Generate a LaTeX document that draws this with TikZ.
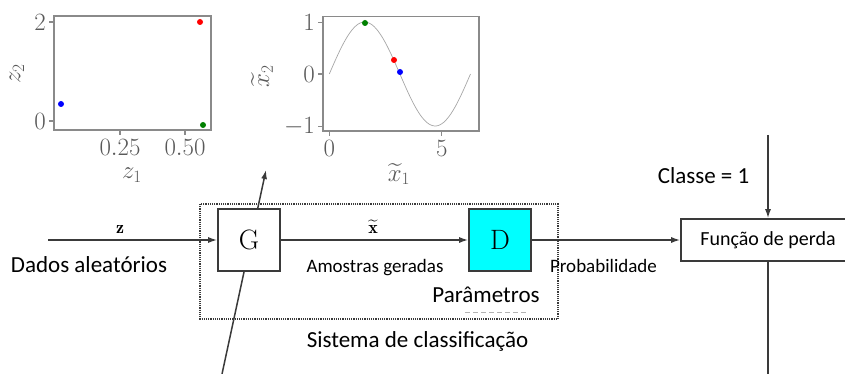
\documentclass[tikz,border=0pt]{standalone}
\usepackage{fontspec}
\usepackage{amsmath}
\newfontfamily\calfont{Carlito}
\usetikzlibrary{arrows.meta}
\definecolor{ln}{HTML}{3A3A3A}
\definecolor{ax}{HTML}{8A8A8A}
\definecolor{cy}{RGB}{0,255,255}
\tikzset{
  line/.style={draw=ln, line width=1.5pt},
  arr/.style={line, -{Latex[length=9pt,width=6pt]}},
  blockbox/.style={draw=ln, line width=1.6pt, minimum width=62pt, minimum height=62pt, inner sep=0pt, font=\fontsize{28}{30}\selectfont},
  frame/.style={draw=ax, line width=1.6pt},
  tck/.style={draw=ax, line width=1.2pt},
  ticklab/.style={text=black!65, font=\fontsize{26}{28}\selectfont, inner sep=0pt},
  axlab/.style={text=black!65, font=\fontsize{24}{26}\selectfont, inner sep=0pt},
  sans/.style={font=\calfont\fontsize{#1}{#1}\selectfont, inner sep=0pt, anchor=base},
  dot/.style={circle, inner sep=0pt, minimum size=6pt},
  mlab/.style={font=\fontsize{18}{20}\selectfont, inner sep=0pt, anchor=base}
}
\begin{document}
\begin{tikzpicture}[x=1pt, y=-1pt]
\useasboundingbox (0,0) rectangle (845,374);
\clip (0,0) rectangle (845,374);

% ---------- plot 1 ----------
\draw[frame] (54,16) rectangle (211,130);
\foreach \yy/\lab in {22/2,121/0} {
  \draw[tck] (54,\yy) -- (49,\yy);
  \node[ticklab, anchor=east] (p1y\lab) at (46,\yy) {$\lab$};
}
\foreach \xx/\lab/\nm in {120/0.25/a,185/0.50/b} {
  \draw[tck] (\xx,130) -- (\xx,135);
  \node[ticklab, anchor=north] (p1x\nm) at (\xx,139) {$\lab$};
}
\node[axlab] (p1xl) at (132,175) {$z_1$};
\node[axlab, rotate=90] (p1yl) at (17,74) {$z_2$};
\node[dot, fill=red] (r1) at (200,22) {};
\node[dot, fill=blue] (b1) at (61,104) {};
\node[dot, fill=green!50!black] (g1) at (203,125) {};

% ---------- plot 2 ----------
\draw[frame] (322.7,16.7) rectangle (479,131);
\foreach \yy/\lab/\nm in {22.7/1/a,74/0/b,126.7/-1/c} {
  \draw[tck] (322.7,\yy) -- (317.7,\yy);
  \node[ticklab, anchor=east] (p2y\nm) at (315,\yy) {$\lab$};
}
\foreach \xx/\lab in {329.3/0,441.7/5} {
  \draw[tck] (\xx,131) -- (\xx,136);
  \node[ticklab, anchor=north] (p2x\lab) at (\xx,140) {$\lab$};
}
\draw[black!35, line width=0.7pt] plot[domain=0:6.2832, samples=80, smooth] ({329.3+22.47*\x}, {74-52*sin(\x r)});
\node[axlab] (p2xl) at (399,174) {$\widetilde{x}_1$};
\node[axlab, rotate=90] (p2yl) at (262,76) {$\widetilde{x}_2$};
\node[dot, fill=green!50!black] (g2) at (365,23) {};
\node[dot, fill=red] (r2) at (394,60) {};
\node[dot, fill=blue] (b2) at (400,72) {};

% ---------- block diagram ----------
\coordinate (lowin) at (222,374);
\coordinate (plotin) at (266,170);
\draw[arr] (lowin) -- (plotin);

\draw[ln, line width=1.2pt, dash pattern=on 1.2pt off 1pt] (200,204) rectangle (558,319);
\draw[black!30, line width=1pt, dash pattern=on 5pt off 3pt] (465,312) -- (527,312);

\node[blockbox, fill=white] (G) at (249,240) {G};
\node[blockbox, fill=cy] (D) at (500,240) {D};
\node[draw=ln, line width=1.6pt, minimum width=174pt, minimum height=42pt, inner sep=0pt, fill=white,
      font=\calfont\fontsize{20}{20}\selectfont] (F) at (768,240) {Função de perda};

\coordinate (zin) at (48,240);
\coordinate (cls) at (768,135);
\coordinate (fout) at (768,374);

\draw[arr] (zin) -- (G.west);
\draw[arr] (G.east) -- (D.west);
\draw[arr] (D.east) -- (F.west);
\draw[arr] (cls) -- (F.north);
\draw[line] (F.south) -- (fout);

\node[mlab] (zl) at (120,233.5) {$\mathbf{z}$};
\node[mlab] (xl) at (373,233.5) {$\widetilde{\mathbf{x}}$};

\node[sans=23] (dados) at (89,272) {Dados aleatórios};
\node[sans=19] (amos) at (375,272) {Amostras geradas};
\node[sans=19] (prob) at (603.5,272) {Probabilidade};
\node[sans=23] (param) at (486,302) {Parâmetros};
\node[sans=23] (sist) at (417.5,347) {Sistema de classificação};
\node[sans=23] (classe) at (703.5,183) {Classe = 1};
\end{tikzpicture}
\end{document}
